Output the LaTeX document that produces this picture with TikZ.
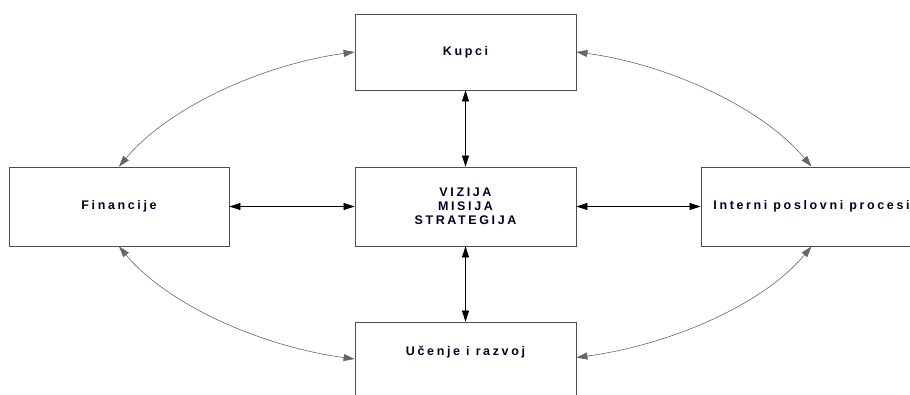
\documentclass[tikz,border=0pt]{standalone}
\usepackage{fontspec}
\setmainfont{Liberation Sans}[LetterSpace=21]
\usetikzlibrary{arrows.meta}
\begin{document}
\begin{tikzpicture}[x=1pt,y=-1pt,
  lbl/.style={font=\fontsize{12.5}{14}\selectfont\bfseries,text=black!85!blue,align=center},
  box/.style={draw=black!70,line width=0.8pt,inner sep=0pt,minimum width=221pt,minimum height=79pt,lbl},
  tip/.style={{Triangle[length=11pt,width=7pt]}-{Triangle[length=11pt,width=7pt]}},
  link/.style={tip,line width=0.6pt,black},
  curve/.style={tip,line width=0.6pt,black!60}]
\useasboundingbox (0,0) rectangle (910,394);
\clip (0,0) rectangle (910,394);
\node[box,minimum height=76pt] (K) at (465.5,52) {Kupci};
\node[box,minimum width=220pt] (F) at (119,206.5) {Financije};
\node[box] (C) at (465.5,206.5) {VIZIJA\\MISIJA\\STRATEGIJA};
\node[box] (I) at (811.5,206.5) {Interni poslovni procesi};
\node[box] (U) at (465.5,361.5) {};
\node[lbl] (Ut) at (465.5,352) {Učenje i razvoj};
\draw[link] (K) -- (C);
\draw[link] (C) -- (U);
\draw[link] (F) -- (C);
\draw[link] (C) -- (I);
\draw[curve] (F.north) .. controls +(50,-60) and +(-90,12) .. (K.west);
\draw[curve] (K.east) .. controls +(90,12) and +(-50,-60) .. (I.north);
\draw[curve] (F.south) .. controls +(50,60) and +(-90,-12) .. ([yshift=2.5pt]U.west);
\draw[curve] (I.south) .. controls +(-50,60) and +(90,-12) .. ([yshift=4pt]U.east);
\end{tikzpicture}
\end{document}
